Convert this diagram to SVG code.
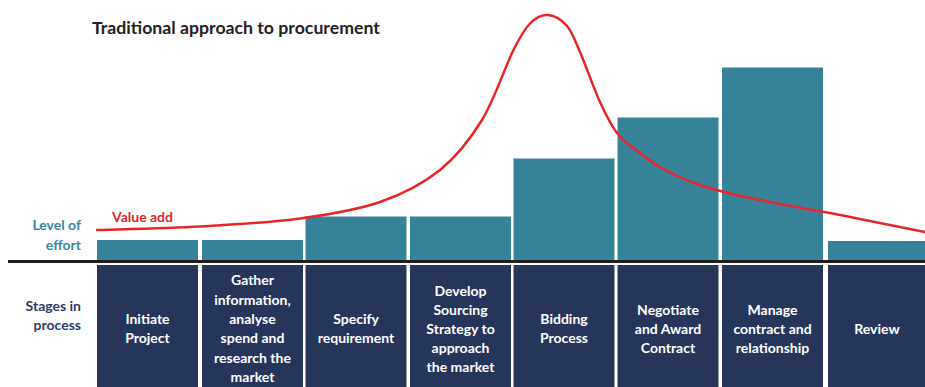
<svg xmlns="http://www.w3.org/2000/svg" width="925" height="387" viewBox="0 0 925 387">
<style>
.bar{fill:#37839A}
.box{fill:#26365A}
.bt{font-family:Lato,"Open Sans","Liberation Sans",sans-serif;font-weight:bold;font-size:14px;fill:#FFFFFF;text-anchor:middle}
.lbl{font-family:Lato,"Open Sans","Liberation Sans",sans-serif;font-weight:bold;font-size:14px;text-anchor:end}
</style>
<rect width="925" height="387" fill="#FFFFFF"/>
<text x="92" y="34" font-family="Lato,'Open Sans','Liberation Sans',sans-serif" font-weight="bold" font-size="17.7px" fill="#222222">Traditional approach to procurement</text>
<text class="lbl" x="81" y="230" fill="#3A8A9C">Level of</text>
<text class="lbl" x="81" y="250" fill="#3A8A9C">effort</text>
<text class="lbl" x="81" y="311" fill="#2B3E63">Stages in</text>
<text class="lbl" x="81" y="330" fill="#2B3E63">process</text>
<g id="bars">
<rect class="bar" x="97" y="240" width="101" height="21"/>
<rect class="bar" x="202" y="240" width="101" height="21"/>
<rect class="bar" x="305.5" y="216.5" width="101" height="44.5"/>
<rect class="bar" x="410" y="216.5" width="101" height="44.5"/>
<rect class="bar" x="513.5" y="158.5" width="101" height="102.5"/>
<rect class="bar" x="617.5" y="117.5" width="101" height="143.5"/>
<rect class="bar" x="722" y="67.5" width="101" height="193.5"/>
<rect class="bar" x="828" y="241" width="97" height="20"/>
</g>
<line x1="8" y1="261.5" x2="925" y2="261.5" stroke="#1E1E1E" stroke-width="3"/>
<g id="n1"><rect class="box" x="97" y="265" width="101" height="125"/>
<text class="bt"><tspan x="147.5" y="324">Initiate</tspan><tspan x="147.5" y="343">Project</tspan></text></g>
<g id="n2"><rect class="box" x="202" y="265" width="101" height="125"/>
<text class="bt"><tspan x="252.5" y="285">Gather</tspan><tspan x="252.5" y="305">information,</tspan><tspan x="252.5" y="324">analyse</tspan><tspan x="252.5" y="343">spend and</tspan><tspan x="252.5" y="363">research the</tspan><tspan x="252.5" y="382">market</tspan></text></g>
<g id="n3"><rect class="box" x="305.5" y="265" width="101" height="125"/>
<text class="bt"><tspan x="356" y="324">Specify</tspan><tspan x="356" y="343">requirement</tspan></text></g>
<g id="n4"><rect class="box" x="410" y="265" width="101" height="125"/>
<text class="bt"><tspan x="460.5" y="296">Develop</tspan><tspan x="460.5" y="315">Sourcing</tspan><tspan x="460.5" y="334">Strategy to</tspan><tspan x="460.5" y="353">approach</tspan><tspan x="460.5" y="372">the market</tspan></text></g>
<g id="n5"><rect class="box" x="513.5" y="265" width="101" height="125"/>
<text class="bt"><tspan x="564" y="324">Bidding</tspan><tspan x="564" y="343">Process</tspan></text></g>
<g id="n6"><rect class="box" x="617.5" y="265" width="101" height="125"/>
<text class="bt"><tspan x="668" y="315">Negotiate</tspan><tspan x="668" y="334">and Award</tspan><tspan x="668" y="353">Contract</tspan></text></g>
<g id="n7"><rect class="box" x="722" y="265" width="101" height="125"/>
<text class="bt"><tspan x="772.5" y="315">Manage</tspan><tspan x="772.5" y="334">contract and</tspan><tspan x="772.5" y="353">relationship</tspan></text></g>
<g id="n8"><rect class="box" x="828" y="265" width="97" height="125"/>
<text class="bt"><tspan x="877" y="334">Review</tspan></text></g>
<g id="curve">
<path fill="none" stroke="#E8262A" stroke-width="2.5" stroke-linecap="round" d="M97,230 C114.2,229.4 166.2,228.4 200,226.5 C233.8,224.6 270,222.6 300,218.5 C330,214.4 356.7,210.1 380,202 C403.3,193.9 423,183.7 440,170 C457,156.3 469.8,139.8 482,120 C494.2,100.2 505,67.1 513,51 C521,34.9 524.2,29.5 530,23.5 C535.8,17.5 541.8,14.6 548,15 C554.2,15.4 561.7,19.8 567,26 C572.3,32.2 574.5,39.3 580,52 C585.5,64.7 593.8,88.5 600,102 C606.2,115.5 610.8,124.8 617,133 C623.2,141.2 629,144.8 637,151 C645,157.2 654.5,164.3 665,170 C675.5,175.7 685.8,180.3 700,185 C714.2,189.7 725,192.7 750,198 C775,203.3 820.8,211.3 850,217 C879.2,222.7 912.5,229.5 925,232"/>
<text x="112" y="222" font-family="Lato,'Open Sans','Liberation Sans',sans-serif" font-weight="bold" font-size="14px" fill="#E8262A">Value add</text>
</g>
</svg>
